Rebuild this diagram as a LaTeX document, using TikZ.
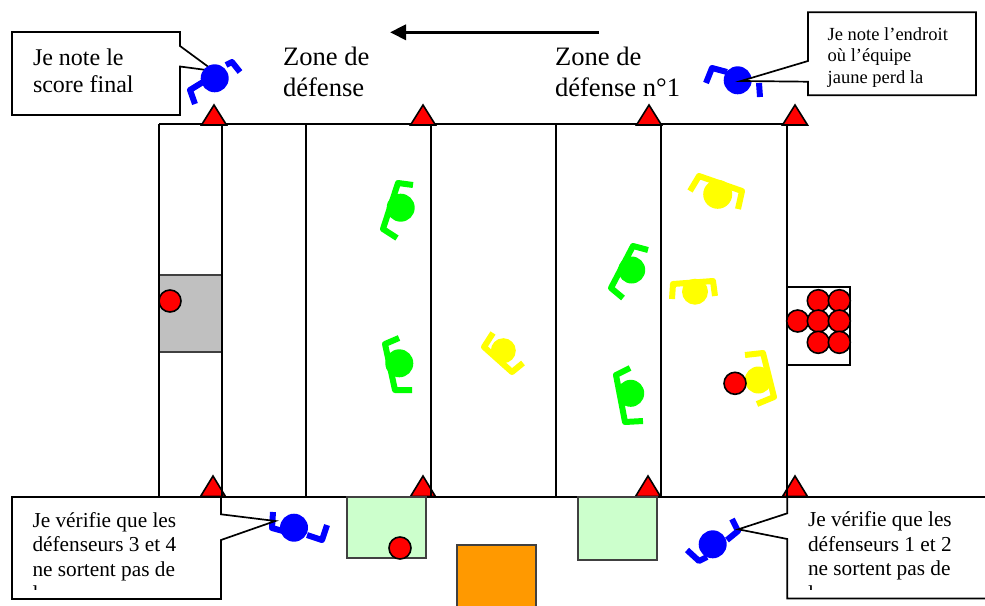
\documentclass[tikz,border=0pt]{standalone}
\usepackage{fontspec}
\setmainfont{Liberation Serif}
\usetikzlibrary{arrows.meta}
\definecolor{pblue}{RGB}{0,0,255}
\definecolor{pgreen}{RGB}{0,255,0}
\definecolor{pyellow}{RGB}{255,255,0}
\definecolor{pred}{RGB}{255,0,0}
\definecolor{lightg}{RGB}{204,255,204}
\definecolor{porange}{RGB}{255,153,0}
\definecolor{pgray}{RGB}{192,192,192}
\tikzset{
  fieldline/.style={draw=black,line width=1.6pt},
  box/.style={draw=black!75,line width=1.7pt},
  cone/.style={draw=black,fill=pred,line width=1.6pt,line join=miter},
  ball/.style={circle,draw=black,fill=pred,line width=1.6pt,inner sep=0pt,minimum size=22pt},
  callout/.style={draw=black,fill=white,line width=1.7pt,line join=miter},
  arm/.style={line width=6pt,line join=round},
  txt/.style={anchor=north west,inner sep=0pt,outer sep=0pt,align=left,text=black},
  big/.style={txt,font=\fontsize{24}{27.7}\selectfont},
  zone/.style={txt,font=\fontsize{26.6}{31}\selectfont},
  med/.style={txt,font=\fontsize{21.3}{24.5}\selectfont},
  small/.style={txt,font=\fontsize{18.5}{21.6}\selectfont}
}
\newcommand{\triUp}[1]{\draw[cone] (#1,105) -- (#1+12.5,125) -- (#1-12.5,125) -- cycle;}
\newcommand{\triDown}[1]{\draw[cone] (#1,476) -- (#1+12.5,496.5) -- (#1-12.5,496.5) -- cycle;}
\newcommand{\head}[4]{\fill[#1] (#2,#3) circle[radius=#4pt];}
\begin{document}
\begin{tikzpicture}[x=1pt,y=-1pt]
\useasboundingbox (0,0) rectangle (985,605);
\clip (0,0) rectangle (985,605);
\fill[white] (0,0) rectangle (985,605);

% direction arrow
\coordinate (arrowstart) at (599,32.3);
\coordinate (arrowend) at (390,32.3);
\draw[line width=3.4pt,-{Triangle[length=16pt,width=15pt]}] (arrowstart) -- (arrowend);

% zone labels
\node[zone] (zone2) at (283,46.8) {Zone de\\défense};
\node[zone] (zone1) at (555,46.8) {Zone de\\défense n°1};

% bottom cones under the field lines
\triDown{213}\triDown{423}\triDown{648}\triDown{795}

% goal area
\draw[box,fill=pgray] (159,275) rectangle (222,352);

% field
\draw[fieldline] (159,124) -- (787,124);
\draw[fieldline] (12,497) -- (990,497);
\foreach \x in {159,222,306,431,556,661,787} \draw[fieldline] (\x,124) -- (\x,497);

% top cones
\triUp{214}\triUp{423}\triUp{649}\triUp{795}

% ball box, side areas
\draw[fieldline] (787,287) rectangle (850,365);
\draw[box,fill=lightg] (347.3,497) rectangle (425.7,557.7);
\draw[box,fill=lightg] (578,497) rectangle (656.7,559.7);
\draw[box,fill=porange] (457.3,545.3) rectangle (535.7,610);

% balls
\node[ball] (b0) at (170,301) {};
\node[ball] (b1) at (400,548) {};
\node[ball] (s1) at (818.3,300.7) {};
\node[ball] (s2) at (839.3,300.7) {};
\node[ball] (s3) at (797.7,321) {};
\node[ball] (s4) at (818.3,321) {};
\node[ball] (s5) at (839.3,321) {};
\node[ball] (s6) at (818.3,342.3) {};
\node[ball] (s7) at (839.3,342.3) {};

% green players
\draw[arm,pgreen] (413,185) -- (398,183) -- (383,229) -- (397,238);
\head{pgreen}{400.7}{207.7}{14}
\draw[arm,pgreen] (399,338) -- (385,344) -- (395,390) -- (412,390);
\head{pgreen}{399.3}{363.3}{14}
\draw[arm,pgreen] (648,250) -- (633,246) -- (611,288) -- (623,298);
\head{pgreen}{631.7}{270}{13.5}
\draw[arm,pgreen] (630,368) -- (616,375) -- (625,422) -- (643,421);
\head{pgreen}{630.7}{393.3}{13.5}

% yellow players
\draw[arm,pyellow] (493,333) -- (484,347) -- (512,372) -- (523,363);
\head{pyellow}{503.3}{350.7}{12.5}
\draw[arm,pyellow] (690,191) -- (699,176) -- (742,191) -- (738,209);
\head{pyellow}{717.7}{194.3}{14.5}
\draw[arm,pyellow] (672,299) -- (673,284) -- (713,281) -- (715,296);
\head{pyellow}{695}{291.7}{13}
\draw[arm,pyellow] (745,355) -- (763,353) -- (774,397) -- (757,404);
\head{pyellow}{758.3}{380}{13.5}
\node[ball] (b3) at (735,383.3) {};

% callout top left, under its player
\draw[callout] (12,32) -- (180,32) -- (180,46) -- (214,71) -- (180,66.5) -- (180,115) -- (12,115) -- cycle;
\node[big] (t1) at (33,48.6) {Je note le\\score final};
\draw[arm,pblue] (195,104) -- (190,90) -- (203,82);
\draw[arm,pblue] (226,65) -- (232,62) -- (240,72);
\head{pblue}{214.7}{78.3}{14}

% blue players
\draw[arm,pblue] (706,83) -- (712,68) -- (727,72);
\draw[arm,pblue] (759,83) -- (760,97);
\head{pblue}{737.7}{80.3}{14}
\draw[arm,pblue] (273,512) -- (272,528) -- (283,531);
\draw[arm,pblue] (307,535) -- (322,540) -- (327,525);
\head{pblue}{294}{527.7}{14}
\draw[arm,pblue] (687,550) -- (699,561) -- (707,557);
\draw[arm,pblue] (727,540) -- (738,531) -- (732,519);
\head{pblue}{712.7}{544.3}{14}

% callout top right
\draw[callout] (808,12.3) -- (976,12.3) -- (976,95.3) -- (808,95.3) -- (808,81.7) -- (741,81) -- (808,61) -- cycle;
\node[small] (t2) at (827.7,27.4) {Je note l’endroit\\où l’équipe\\jaune perd la};

% callout bottom left
\draw[callout] (12,497) -- (221,497) -- (221,514.3) -- (275.3,521) -- (221,540) -- (221,599) -- (12,599) -- cycle;
\begin{scope}
\clip (12,497) rectangle (221,589);
\node[med] (t3) at (32.5,512.2) {Je vérifie que les\\défenseurs 3 et 4\\ne sortent pas de\\l};
\end{scope}

% callout bottom right
\draw[callout] (787.3,497) -- (990,497) -- (990,598.5) -- (787.3,598.5) -- (787.3,539) -- (738.3,529.3) -- (787.3,513.3) -- cycle;
\begin{scope}
\clip (787.3,497) rectangle (985,589);
\node[med] (t4) at (808,511.5) {Je vérifie que les\\défenseurs 1 et 2\\ne sortent pas de\\l};
\end{scope}
\end{tikzpicture}
\end{document}
